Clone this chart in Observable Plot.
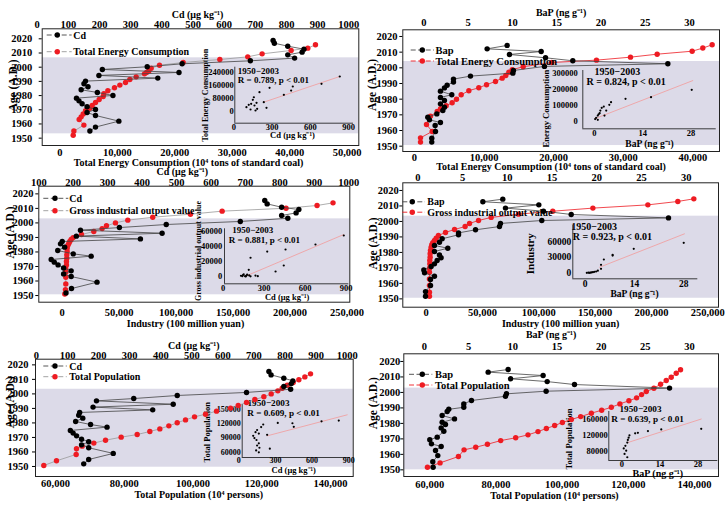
<!DOCTYPE html>
<html><head><meta charset="utf-8">
<script src="https://cdn.jsdelivr.net/npm/d3@7"></script>
<script src="https://cdn.jsdelivr.net/npm/@observablehq/plot@0.6"></script>
<style>
body{margin:0;background:#fff;}
#chart{position:relative;width:728px;height:506px;overflow:hidden;background:#fff;}
#chart svg{position:absolute;left:0;top:0;pointer-events:none;}
</style></head><body><div id="chart"></div>
<script>
// ===================== DATA =====================
// tick labels
const yearTicks = [1950, 1960, 1970, 1980, 1990, 2000, 2010, 2020];
const cdTicks = [0, 100, 200, 300, 400, 500, 600, 700, 800, 900, 1000];
const cdTicks3 = [100, 200, 300, 400, 500, 600, 700, 800, 900, 1000];
const bapTicks = [0, 5, 10, 15, 20, 25, 30];
const energyTicks1 = [0, 10000, 20000, 30000, 40000, 50000];
const energyTicks2 = [0, 10000, 20000, 30000, 40000];
const industryTicks = [0, 50000, 100000, 150000, 200000, 250000];
const popTicks = [60000, 80000, 100000, 120000, 140000];
const insetCdTicks = [0, 300, 600, 900];
const insetBapTicks = [0, 14, 28];

// Panel 1: Cd & Total Energy Consumption
const p1CdYear = [2018.8, 2016.9, 2014.8, 2012.7, 2010.6, 2008.7, 2006.4, 2004.5, 2002.4, 2000.3, 1998.4, 1996.3, 1994.2, 1992.3, 1990.2, 1988.3, 1986.2, 1984.1, 1982.2, 1980.1, 1978.2, 1976.3, 1974.2, 1972.1, 1970.2, 1968.1, 1966, 1962, 1957.8, 1955];
const p1Cd = [757, 761, 804, 856, 850, 804, 826, 684, 465, 353, 209, 455, 198, 387, 155, 150, 163, 141, 193, 243, 126, 134, 144, 160, 187, 160, 187, 262, 187, 169];
const p1EnergyYear = [2015.8, 2013.4, 2011.8, 2009.4, 2007.3, 2005.4, 2003.3, 2001.4, 1999.3, 1997.4, 1996.3, 1995.3, 1993.2, 1991.3, 1989.2, 1987.4, 1985.5, 1983.4, 1981.3, 1979.4, 1977.2, 1975.1, 1973, 1971.1, 1969.3, 1967.1, 1965, 1963.2, 1959.2, 1955, 1952];
const p1Energy = [44486, 43150, 40250, 35200, 32700, 27840, 21460, 17340, 15890, 15490, 15080, 14730, 13280, 12180, 11430, 10440, 9510, 8350, 7660, 7540, 6840, 6210, 5630, 5220, 4470, 4060, 3710, 3360, 4180, 2440, 2320];
const p1Band = [1953.05, 2006.6];
const p1InsetCd = [830, 687, 462, 449, 392, 280, 201, 157, 149, 235, 256, 117, 99, 131, 170, 183, 162, 136, 178];
const p1InsetEnergy = [213700, 169000, 152600, 128000, 101800, 144500, 118000, 87000, 71000, 57000, 22600, 40900, 26300, 12200, 6100, 16500, 36600, 47000, 53000];
const p1FitCd = [235, 830];
const p1FitEnergy = [57000, 213700];

// Panel 2: BaP & Total Energy Consumption
const p2BapYear = [2014.3, 2012.1, 2010.4, 2008.5, 2006.4, 2004.5, 2002.6, 2000.9, 1998.3, 1996.6, 1994.7, 1992.8, 1990.9, 1988.9, 1987.2, 1985.1, 1982.8, 1981.1, 1979.1, 1977, 1974.9, 1972.8, 1970.6, 1968.5, 1966.8, 1965.1, 1963.2, 1959.4, 1955.1, 1952.6];
const p2Bap = [9.41, 7.15, 13.25, 9.67, 13.74, 16.82, 27.55, 13.62, 10.12, 10.05, 5.27, 3.35, 3.35, 2.63, 2.33, 1.88, 3.16, 1.88, 2.33, 1.88, 2.33, 2.15, 1.47, 0.45, 0.64, 1.88, 1.28, 1.32, 0.9, 0.9];
const p2EnergyYear = [1952.6, 1955.3, 1959.4, 1963.8, 1969.2, 1972.1, 1973.9, 1975.8, 1977.7, 1979.9, 1982.8, 1985.4, 1987.3, 1989.2, 1991.3, 1993.4, 1995.1, 1997.2, 1998.8, 2000.7, 2003.4, 2004.9, 2006.8, 2008.7, 2010.6, 2012.6, 2014.7];
const p2Energy = [862, 862, 2540, 1724, 2300, 3260, 3740, 4550, 5410, 6030, 6710, 7810, 9240, 10350, 11640, 12600, 13120, 13560, 14040, 15620, 19730, 26150, 31040, 34870, 39900, 41430, 42775];
const p2Band = [1950.4, 2004.04];
const p2InsetBap = [28.2, 16.4, 9, 4.8, 4.3, 2.1, 1.7, 1.5, 0.96, 0.48, 0.96, 2.9, 3.4, 2.7, 1.2, 0.2];
const p2InsetEnergy = [196900, 151000, 141000, 120000, 103700, 85000, 68000, 51600, 37000, 23000, 10500, 37000, 68000, 93000, 45000, 15000];
const p2FitBap = [0, 28.5];
const p2FitEnergy = [16600, 254000];

// Panel 3: Cd & Gross industrial output value
const p3CdYear = [2015.4, 2013.1, 2010.8, 2009.2, 2006.9, 2005.1, 2003.2, 2001, 1998.9, 1996.8, 1995, 1992.9, 1990.9, 1989, 1987.2, 1985.6, 1983.3, 1981, 1978.7, 1977.1, 1974.8, 1973, 1971.1, 1969, 1967, 1964.9, 1963.1, 1959.2, 1954.8, 1951.8];
const p3Cd = [756, 763, 805, 855, 847, 805, 823, 685, 470, 334, 221, 458, 209, 395, 168, 163, 175, 155, 200, 252, 136, 145, 156, 172, 194, 172, 194, 269, 195, 179];
const p3IndYear = [2013.8, 2012, 2010.1, 2008.1, 2006, 2003.9, 2001.9, 2000, 1998, 1996.1, 1994.1, 1992, 1989.9, 1988.6, 1987.2, 1985.8, 1984.4, 1982.6, 1980.3, 1978, 1975.7, 1973.4, 1971.1, 1968.4, 1966.1, 1962.6, 1958, 1954.1, 1951.1];
const p3Ind = [237700, 223700, 196500, 140400, 112600, 79500, 57600, 46800, 38900, 35100, 27800, 17000, 9650, 7900, 6700, 5850, 4970, 4390, 4390, 4090, 4090, 3800, 3800, 3220, 3220, 3220, 3220, 2920, 2340];
const p3Band = [1950.5, 2002.8];
const p3InsetCd = [882, 675, 456, 322, 200, 443, 383, 187, 236, 253, 130, 145, 160, 175, 190, 150, 165, 140, 170, 200];
const p3InsetInd = [54700, 42700, 36000, 33300, 25000, 14700, 6700, 8900, 1300, 500, 1000, 2000, 500, 2500, 1500, 3000, 0, 500, 1200, 300];
const p3FitCd = [175, 882];
const p3FitInd = [1300, 56000];

// Panel 4: BaP & Gross industrial output value
const p4BapYear = [2014.4, 2012.7, 2010.7, 2008.6, 2006.6, 2004.5, 2002.3, 2000.6, 1998.7, 1996.7, 1994.6, 1992.6, 1991.4, 1988.8, 1986.6, 1984.5, 1982.7, 1980.6, 1978.4, 1976.6, 1974.8, 1972.6, 1970.9, 1968.7, 1966.8, 1964.6, 1962.5, 1958.6, 1954.7, 1951.7];
const p4Bap = [9.5, 7.27, 13.53, 9.8, 14.05, 17.15, 28.03, 13.86, 9.24, 9.13, 6.45, 4.55, 4.55, 2.72, 2.42, 1.86, 3.35, 1.86, 2.42, 2.6, 2.16, 1.86, 1.49, 0.67, 0.75, 1.86, 1.42, 1.42, 0.86, 0.86];
const p4IndYear = [2014.6, 2012.9, 2010.7, 2008.6, 2006.6, 2004.7, 2002.6, 2000.6, 1998.7, 1996.7, 1994.8, 1992.9, 1990.9, 1989.2, 1987.7, 1986.2, 1984.9, 1983.4, 1981.2, 1979.1, 1976.9, 1974.8, 1972.6, 1969.8, 1967.2, 1962.9, 1958.6, 1954.3, 1951.7];
const p4Ind = [237600, 223400, 196800, 148000, 112400, 82000, 57700, 46500, 38500, 34600, 25200, 17200, 10900, 8880, 7400, 5920, 5030, 4440, 3850, 3550, 3550, 3250, 3250, 2960, 2960, 2960, 2960, 2960, 2960];
const p4Band = [1950.4, 2003.4];
const p4InsetBap = [28, 13.8, 7.8, 7.8, 5.3, 4.5, 4.5, 3.1, 2.2, 1.2, 0.46, 1.8, 2.6, 3.6, 0.9, 1.5];
const p4InsetInd = [57500, 46000, 34500, 33000, 25500, 15300, 7700, 2500, 1200, 0, 0, 800, 1800, 4000, 300, 500];
const p4FitBap = [4.1, 28.2];
const p4FitInd = [10700, 74700];

// Panel 5: Cd & Total Population
const p5CdYear = [2015.4, 2013.1, 2010.8, 2009, 2007.1, 2005.1, 2003.2, 2001, 1998.9, 1996.8, 1995.2, 1992.9, 1990.9, 1989, 1987.2, 1985.3, 1983.3, 1981, 1978.9, 1977.1, 1974.8, 1973, 1971.1, 1968.8, 1967, 1964.9, 1962.9, 1959, 1954.8, 1951.8];
const p5Cd = [748, 755, 796, 825, 820, 796, 818, 676, 453, 313, 193, 440, 182, 374, 139, 136, 149, 126, 174, 227, 109, 118, 129, 145, 168, 145, 168, 247, 168, 152];
const p5PopYear = [2013.8, 2011.7, 2009.7, 2007.8, 2006, 2003.9, 2002.1, 2000, 1998, 1996.1, 1994.1, 1992, 1990.2, 1988.1, 1986, 1984.2, 1982.1, 1980.1, 1978, 1975.9, 1974.1, 1972, 1970.2, 1968.1, 1966.1, 1964, 1962.2, 1958.3, 1953.9, 1950.7];
const p5Pop = [134180, 132530, 130790, 129140, 127400, 125940, 124680, 122740, 120610, 117990, 115560, 113140, 110910, 106840, 103640, 100440, 97820, 95400, 92970, 90350, 87440, 83760, 79100, 74550, 71150, 67760, 66110, 66010, 60290, 56600];
const p5Band = [1949.5, 2003.2];
const p5InsetCd = [818, 677, 439, 450, 319, 200, 183, 150, 137, 164, 232, 118, 128, 145, 164, 150, 169, 142, 164, 254];
const p5InsetPop = [125700, 124300, 120200, 112700, 120800, 117600, 112100, 106000, 101400, 98500, 95900, 93900, 89200, 85100, 78200, 73600, 68900, 63400, 59400, 66900];
const p5FitCd = [232, 887];
const p5FitPop = [93800, 137800];

// Panel 6: BaP & Total Population
const p6BapYear = [2014.8, 2013.1, 2010.9, 2008.8, 2007, 2005.1, 2002.8, 2000.8, 1999.1, 1997.5, 1994.8, 1992.6, 1990.4, 1989.1, 1987.7, 1985.1, 1982.9, 1980.7, 1979.3, 1977.1, 1974.9, 1971.1, 1969.4, 1966.8, 1965.1, 1962.5, 1959.2, 1955.2, 1951.7];
const p6Bap = [9.47, 7.21, 13.43, 9.74, 13.89, 16.98, 27.74, 13.77, 9.28, 9.17, 5.32, 4.45, 4.45, 2.75, 2.57, 2.0, 3.4, 2.0, 2.38, 1.89, 2.19, 1.44, 0.6, 0.79, 1.89, 1.25, 1.51, 0.94, 0.98];
const p6PopYear = [1951.7, 1954.5, 1958.6, 1962.9, 1964.6, 1966.5, 1968.9, 1970.7, 1972.6, 1974.7, 1976.7, 1978.6, 1980.6, 1982.5, 1984.4, 1986.6, 1988.5, 1990.4, 1992.6, 1994.6, 1996.5, 1998.6, 2000.6, 2002.7, 2005.3, 2007.7, 2009.8, 2012.4, 2014.6];
const p6Pop = [59300, 63110, 68660, 70360, 73890, 77420, 81430, 85960, 89680, 92700, 95230, 97740, 100070, 102780, 105590, 108820, 111930, 114860, 117450, 120170, 122490, 124000, 125420, 127720, 129740, 131450, 132960, 134470, 135770];
const p6Band = [1950, 2002.8];
const p6InsetBap = [29.2, 14.5, 9.6, 5.9, 4.9, 2.8, 2.5, 2.2, 2, 1.3, 0.7, 1.6, 1, 2];
const p6InsetPop = [136800, 135400, 131200, 127000, 125600, 120700, 114900, 109300, 102700, 94600, 88000, 82400, 74400, 66100];
const p6FitBap = [2.2, 29.2];
const p6FitPop = [102700, 161200];

// ===================== LAYOUT / STYLE =====================
const W = 728, H = 506;
const FONT = '"Liberation Serif","Times New Roman",serif';
const RED = "#ee1b22";
const BAND = "#dcdae8";
const fmtD = d3.format("d");
const fmtC = d3.format(",");

const panels = [
  {frame:{L:41.7,R:358.3,T:28.3,B:145}, yDom:[1944.83,2027.05], topDom:[16,1032], botDom:[-3074,52026],
   band:p1Band, topTicks:cdTicks, botTicks:energyTicks1,
   black:[p1CdYear,p1Cd], red:[p1EnergyYear,p1Energy], redLine:"#999",
   topTitle:"Cd (μg kg⁻¹)", topPos:[-3,-13.8], botTitle:"Total Energy Consumption (10⁴ tons of standard coal)", botPos:[-12,17],
   agePos:[-28.7,-1.7], yPad:7, topPad:0.5, botPad:3,
   inset:{frame:{L:234.3,R:353,T:66.7,B:122.7}, xDom:[7.8,937.6], yDom:[-71400,270400], xTicks:insetCdTicks, yTicks:[0,80000,160000,240000],
     x:p1InsetCd, y:p1InsetEnergy, fx:p1FitCd, fy:p1FitEnergy, yTitle:"Total Energy Consumption", yPos:[-29.3,0], ySize:8,
     xTitle:"Cd (μg kg⁻¹)", xPos:[-1.7,12.5], xSize:8.6, stats:["1950−2003","R = 0.789, p < 0.01"], sPos:[[3,3.6],[3,12.9]], sSize:9, ypad:1, xpad:0.5}},
  {frame:{L:402.3,R:719,T:29.3,B:151}, yDom:[1946.6,2024.26], topDom:[-2.37,33.38], botDom:[-1681,43830],
   band:p2Band, topTicks:bapTicks, botTicks:energyTicks2,
   black:[p2BapYear,p2Bap], red:[p2EnergyYear,p2Energy], redLine:RED,
   topTitle:"BaP (ng g⁻¹)", topPos:[0,-17.3], botTitle:"Total Energy Consumption (10⁴ tons of standard coal)", botPos:[-10,15.3],
   agePos:[-30.3,-5.6], yPad:2.3, topPad:3.5, botPad:2,
   inset:{frame:{L:582.3,R:715.7,T:70,B:128.3}, xDom:[-3.39,35.3], yDom:[-45300,316800], xTicks:insetBapTicks, yTicks:[0,100000,200000,300000],
     x:p2InsetBap, y:p2InsetEnergy, fx:p2FitBap, fy:p2FitEnergy, yTitle:"Energy Consumption", yPos:[-36.6,9], ySize:8.5,
     xTitle:"BaP (ng g⁻¹)", xPos:[0,15], xSize:9.6, stats:["1950−2003","R = 0.824, p < 0.01"], sPos:[[11.7,1.7],[3.7,11.7]], sSize:10, ypad:5, xpad:1.5}},
  {frame:{L:38.3,R:349.3,T:185.7,B:301.7}, yDom:[1945.41,2025.28], topDom:[100,1002.9], botDom:[-20468,252426],
   band:p3Band, topTicks:cdTicks3, botTicks:industryTicks,
   black:[p3CdYear,p3Cd], red:[p3IndYear,p3Ind], redLine:"#999",
   topTitle:"Cd (μg kg⁻¹)", topPos:[-12,-14], botTitle:"Industry (100 million yuan)", botPos:[-8.8,21.6],
   agePos:[-28.3,-11.7], yPad:2.3, topPad:0.3, botPad:6,
   inset:{frame:{L:224,R:348.3,T:228.3,B:283.3}, xDom:[9.5,918.8], yDom:[-9700,63600], xTicks:insetCdTicks, yTicks:[0,20000,40000,60000],
     x:p3InsetCd, y:p3InsetInd, fx:p3FitCd, fy:p3FitInd, yTitle:"Gross industrial output value", yPos:[-25.7,-5.3], ySize:8,
     xTitle:"Cd (μg kg⁻¹)", xPos:[0.5,13.8], xSize:8.5, stats:["1950−2003","R = 0.881, p < 0.01"], sPos:[[7.7,1],[4.3,11.7]], sSize:9, ypad:2.3, xpad:1.5}},
  {frame:{L:402.3,R:718,T:182.3,B:306.7}, yDom:[1944.62,2024.95], topDom:[-1.68,33.62], botDom:[-20713,259500],
   band:p4Band, topTicks:bapTicks, botTicks:industryTicks,
   black:[p4BapYear,p4Bap], red:[p4IndYear,p4Ind], redLine:RED,
   topTitle:null, botTitle:"Industry (100 million yuan)", botPos:[0,16.6],
   agePos:[-29.6,-1.5], yPad:1, topPad:2.2, botPad:1.2,
   inset:{frame:{L:572.3,R:697.3,T:225,B:278.3}, xDom:[-3.52,32], yDom:[-11500,90700], xTicks:insetBapTicks, yTicks:[0,30000,60000],
     x:p4InsetBap, y:p4InsetInd, fx:p4FitBap, fy:p4FitInd, yTitle:"Industry", yPos:[-42.6,1.6], ySize:11,
     xTitle:"BaP (ng g⁻¹)", xPos:[-0.8,15.5], xSize:9.5, stats:["1950−2003","R = 0.923, p < 0.01"], sPos:[[-1.6,1],[0,11]], sSize:10, ypad:1.6, xpad:1.5, tSize:9.5}},
  {frame:{L:35,R:352.7,T:358.7,B:476}, yDom:[1943.1,2023.9], topDom:[-3.2,1019.3], botDom:[54182,146594],
   band:p5Band, topTicks:cdTicks, botTicks:popTicks,
   black:[p5CdYear,p5Cd], red:[p5PopYear,p5Pop], redLine:"#999",
   topTitle:"Cd (μg kg⁻¹)", topPos:[-0.6,-13.2], botTitle:"Total Population (10⁴ persons)", botPos:[4.4,18.2],
   agePos:[-25,-15.6], yPad:4, topPad:0.4, botPad:3,
   inset:{frame:{L:241.7,R:350,T:404,B:457}, xDom:[28,914], yDom:[48490,159420], xTicks:insetCdTicks, yTicks:[60000,90000,120000,150000],
     x:p5InsetCd, y:p5InsetPop, fx:p5FitCd, fy:p5FitPop, yTitle:"Total Population", yPos:[-35,1.2], ySize:8.5,
     xTitle:"Cd (μg kg⁻¹)", xPos:[-2.6,12.8], xSize:8.5, stats:["1950−2003","R = 0.609, p < 0.01"], sPos:[[5.3,-1.3],[5,8.2]], sSize:9.2, ypad:1.5, xpad:0.3, tSize:8}},
  {frame:{L:403.3,R:718,T:353.3,B:476}, yDom:[1945.7,2024.95], topDom:[-2.34,33.28], botDom:[52154,147239],
   band:p6Band, topTicks:bapTicks, botTicks:popTicks,
   black:[p6BapYear,p6Bap], red:[p6PopYear,p6Pop], redLine:RED,
   topTitle:"BaP (ng g⁻¹)", topPos:[-10,-19.5], botTitle:"Total Population (10⁴ persons)", botPos:[-6.7,19.3],
   agePos:[-30.6,-12], yPad:0.5, topPad:3.5, botPad:4.5,
   inset:{frame:{L:608.3,R:717.3,T:411,B:460}, xDom:[-4.8,35.3], yDom:[58000,180000], xTicks:insetBapTicks, yTicks:[80000,120000,160000],
     x:p6InsetBap, y:p6InsetPop, fx:p6FitBap, fy:p6FitPop, yTitle:"Total Population", yPos:[-39.3,3], ySize:8.6,
     xTitle:"BaP (ng g⁻¹)", xPos:[-5.5,13.2], xSize:10, stats:["1950−2003","R = 0.639, p < 0.01"], sPos:[[10.7,-2.9],[2.4,7.3]], sSize:9.2, ypad:1, xpad:0.2}}
];

const legends = [
  {x0:46.7,x1:71.7,xd:57.3,xt:73.3,fs:10, items:[["Cd",35,"#000","#444"],["Total Energy Consumption",51.7,RED,"#999"]]},
  {x0:410.7,x1:434,xd:422.3,xt:435.5,fs:10.5, items:[["Bap",50,"#000","#444"],["Total Energy Consumption",61,RED,RED]]},
  {x0:43.3,x1:68.3,xd:55,xt:69.3,fs:10, items:[["Cd",198.3,"#000","#444"],["Gross industrial output value",210.7,RED,"#999"]]},
  {x0:402.3,x1:425,xd:412.3,xt:427.3,fs:10, items:[["Bap",201.8,"#000","#444"],["Gross industrial output value",212.2,RED,RED]]},
  {x0:43.3,x1:66.7,xd:55,xt:69.3,fs:10, items:[["Cd",366,"#000","#444"],["Total Population",376.7,RED,"#999"]]},
  {x0:409,x1:432.3,xd:422.3,xt:435,fs:10.5, items:[["Bap",374.3,"#000","#444"],["Total Population",385,RED,RED]]}
];

// ===================== RENDER =====================
const chart = document.getElementById("chart");
function addPlot(frame, xOpt, yOpt, marks, fs) {
  const svg = Plot.plot({
    width: W, height: H,
    marginLeft: frame.L, marginRight: W - frame.R, marginTop: frame.T, marginBottom: H - frame.B,
    x: xOpt, y: yOpt,
    style: {background: "transparent", fontFamily: FONT, fontWeight: "bold", fontSize: (fs || 10.5) + "px", color: "#000", overflow: "visible"},
    marks
  });
  svg.style.position = "absolute"; svg.style.left = "0px"; svg.style.top = "0px";
  chart.appendChild(svg);
}
const rows = (ys, vs) => ys.map((y, i) => ({year: y, v: vs[i]})).sort((a, b) => a.year - b.year);
const txt = (s, o) => Plot.text([s], {text: d => d, fontWeight: "bold", textAnchor: "middle", lineAnchor: "middle", ...o});

for (const p of panels) {
  const f = p.frame;
  // base layer: shading, frame, bottom & left axes, titles
  addPlot(f, {domain: p.botDom}, {domain: p.yDom}, [
    Plot.rect([0], {x1: () => p.botDom[0], x2: () => p.botDom[1], y1: () => p.band[0], y2: () => p.band[1], fill: BAND}),
    Plot.frame({stroke: "#222", strokeWidth: 1}),
    Plot.axisX({anchor: "bottom", ticks: p.botTicks, tickFormat: fmtC, tickSize: 0, tickPadding: p.botPad, label: null}),
    Plot.axisY({anchor: "left", ticks: yearTicks, tickFormat: fmtD, tickSize: 3, tickPadding: p.yPad, label: null}),
    txt(p.botTitle, {frameAnchor: "bottom", dx: p.botPos[0], dy: p.botPos[1], fontSize: 10}),
    txt("Age (A.D.)", {frameAnchor: "left", rotate: -90, dx: p.agePos[0], dy: p.agePos[1], fontSize: 11.5})
  ]);
  // inset layer
  const s = p.inset, sf = s.frame;
  const pts = s.x.map((v, i) => ({x: v, y: s.y[i]}));
  const fit = s.fx.map((v, i) => ({x: v, y: s.fy[i]}));
  addPlot(sf, {domain: s.xDom}, {domain: s.yDom}, [
    Plot.line(fit, {x: "x", y: "y", stroke: "#f39a9a", strokeWidth: 0.8}),
    Plot.ruleX([s.xDom[0]], {stroke: "#111", strokeWidth: 0.8}),
    Plot.ruleY([s.yDom[0]], {stroke: "#111", strokeWidth: 0.8}),
    Plot.dot(pts, {x: "x", y: "y", r: 1.1, fill: "#000", stroke: "none"}),
    Plot.axisX({anchor: "bottom", ticks: s.xTicks, tickFormat: fmtD, tickSize: 0, tickPadding: s.xpad, label: null}),
    Plot.axisY({anchor: "left", ticks: s.yTicks, tickFormat: fmtD, tickSize: 0, tickPadding: s.ypad, label: null}),
    txt(s.yTitle, {frameAnchor: "left", rotate: -90, dx: s.yPos[0], dy: s.yPos[1], fontSize: s.ySize}),
    txt(s.xTitle, {frameAnchor: "bottom", dx: s.xPos[0], dy: s.xPos[1], fontSize: s.xSize}),
    txt(s.stats[0], {frameAnchor: "top-left", textAnchor: "start", dx: s.sPos[0][0], dy: s.sPos[0][1], fontSize: s.sSize}),
    txt(s.stats[1], {frameAnchor: "top-left", textAnchor: "start", dx: s.sPos[1][0], dy: s.sPos[1][1], fontSize: s.sSize})
  ], s.tSize || 8.5);
  // red series (bottom scale)
  const rd = rows(p.red[0], p.red[1]);
  addPlot(f, {domain: p.botDom, axis: null}, {domain: p.yDom, axis: null}, [
    Plot.line(rd, {x: "v", y: "year", stroke: p.redLine, strokeWidth: 0.8}),
    Plot.dot(rd, {x: "v", y: "year", r: 2.7, fill: RED, stroke: "none"})
  ]);
  // black series (top scale) + top axis
  const bk = rows(p.black[0], p.black[1]);
  const topMarks = [
    Plot.axisX({anchor: "top", ticks: p.topTicks, tickFormat: fmtD, tickSize: 0, tickPadding: p.topPad, label: null}),
    Plot.line(bk, {x: "v", y: "year", stroke: "#444", strokeWidth: 0.8}),
    Plot.dot(bk, {x: "v", y: "year", r: 2.7, fill: "#000", stroke: "none"})
  ];
  if (p.topTitle) topMarks.push(txt(p.topTitle, {frameAnchor: "top", dx: p.topPos[0], dy: p.topPos[1], fontSize: 10}));
  addPlot(f, {domain: p.topDom}, {domain: p.yDom, axis: null}, topMarks);
}

// legends
const leg = d3.select(chart).append("svg").attr("width", W).attr("height", H)
  .style("font-family", FONT).style("font-weight", "bold");
for (const L of legends) {
  for (const [label, y, dot, line] of L.items) {
    leg.append("line").attr("x1", L.x0).attr("x2", L.x1).attr("y1", y).attr("y2", y)
      .attr("stroke", line).attr("stroke-width", 0.9).attr("stroke-dasharray", "5,2.5");
    leg.append("circle").attr("cx", L.xd).attr("cy", y).attr("r", 2.7).attr("fill", dot);
    leg.append("text").attr("x", L.xt).attr("y", y).attr("dy", "0.35em").attr("font-size", L.fs).text(label);
  }
}
</script></body></html>
